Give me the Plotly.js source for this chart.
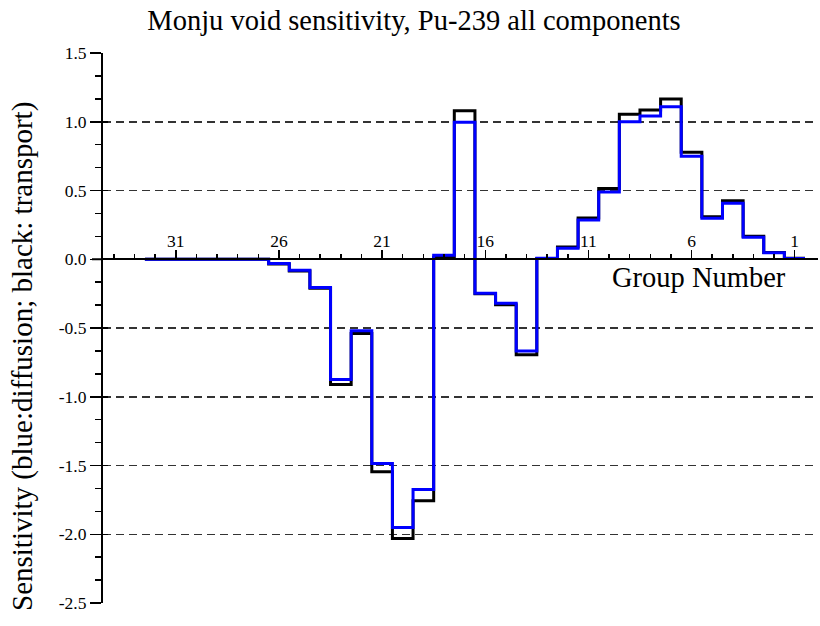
<!DOCTYPE html>
<html>
<head>
<meta charset="utf-8">
<script src="https://cdn.plot.ly/plotly-3.0.1.min.js"></script>
<style>html,body{margin:0;padding:0;background:#fff;}</style>
</head>
<body>
<div id="chart" style="width:820px;height:626px;"></div>
<script>
// Energy groups (left to right on the chart: 32 ... 1)
var groups = [32,31,30,29,28,27,26,25,24,23,22,21,20,19,18,17,16,15,14,13,12,11,10,9,8,7,6,5,4,3,2,1];
// Transport (black) sensitivity per group
var transport = [0,0,0,0,0,0,-0.035,-0.085,-0.21,-0.91,-0.54,-1.545,-2.03,-1.756,0.015,1.08,-0.25,-0.33,-0.695,0.005,0.09,0.30,0.515,1.054,1.085,1.165,0.778,0.31,0.425,0.168,0.05,0.007];
// Diffusion (blue) sensitivity per group
var diffusion = [0,0,0,0,0,0,-0.03,-0.08,-0.205,-0.875,-0.52,-1.485,-1.95,-1.675,0.03,0.996,-0.248,-0.32,-0.667,0.008,0.08,0.285,0.49,1.0,1.042,1.11,0.75,0.298,0.407,0.16,0.047,0.006];
// Tick labels
var xTickVals = [31,26,21,16,11,6,1];
var xTickText = ['31','26','21','16','11','6','1'];
var xMinorVals = [34,33,32,31,30,29,28,27,26,25,24,23,22,21,20,19,18,17,16,15,14,13,12,11,10,9,8,7,6,5,4,3,2,1];
var yTickVals = [1.5,1.0,0.5,0.0,-0.5,-1.0,-1.5,-2.0,-2.5];
var yTickText = ['1.5','1.0','0.5','0.0','-0.5','-1.0','-1.5','-2.0','-2.5'];

// step edges: each group spans [g+0.5, g-0.5]
function stepX(gs){ var x = gs.map(function(g){return g+0.5;}); x.push(gs[gs.length-1]-0.5); return x; }
function stepY(vs){ var y = vs.slice(); y.push(vs[vs.length-1]); return y; }

var serif = 'Liberation Serif, Times New Roman, serif';
var xr = [34.53, -0.13];
var yr = [-2.5, 1.5];

var traces = [
  {x: stepX(groups), y: stepY(transport), mode:'lines', line:{shape:'hv', color:'#000000', width:3}, xaxis:'x', yaxis:'y', hoverinfo:'skip', showlegend:false},
  {x: stepX(groups), y: stepY(diffusion), mode:'lines', line:{shape:'hv', color:'#0000ff', width:3}, xaxis:'x2', yaxis:'y2', hoverinfo:'skip', showlegend:false}
];

var layout = {
  width: 820, height: 626,
  margin: {l:103, r:2, t:53, b:23},
  paper_bgcolor:'#ffffff', plot_bgcolor:'#ffffff',
  showlegend:false,
  title: {text:'Monju void sensitivity, Pu-239 all components', x:414/820, xanchor:'center', xref:'container', y:1-20/626, yanchor:'middle', yref:'container', font:{family:serif, size:28.5, color:'#000'}},
  xaxis: {
    range: xr, anchor:'free', position:0.625, side:'top',
    showgrid:false, zeroline:false, showline:true, linecolor:'#000', linewidth:2,
    tickmode:'array', tickvals:xTickVals, ticktext:xTickText,
    ticks:'outside', ticklen:8, tickwidth:1.5, tickcolor:'#000', ticklabelstandoff:-4,
    tickfont:{family:serif, size:17.5, color:'#000'}
  },
  xaxis2: {
    range: xr, overlaying:'x', anchor:'free', position:0.625, side:'top',
    showgrid:false, zeroline:false, showline:false,
    tickmode:'array', tickvals:xMinorVals, showticklabels:false,
    ticks:'outside', ticklen:5, tickwidth:1.5, tickcolor:'#000'
  },
  yaxis: {
    range: yr, showgrid:true, gridcolor:'#333', gridwidth:1.5, griddash:'8px,5px',
    zeroline:false, showline:true, linecolor:'#000', linewidth:2,
    tickmode:'array', tickvals:yTickVals, ticktext:yTickText,
    ticks:'outside', ticklen:11, tickwidth:1.5, tickcolor:'#000',
    tickfont:{family:serif, size:17.5, color:'#000'},
    minor:{dtick:0.5/3, tick0:-2.5, ticks:'outside', ticklen:6, tickwidth:1.5, tickcolor:'#000', showgrid:false}
  },
  yaxis2: {
    range: yr, overlaying:'y', anchor:'x2', side:'left',
    showgrid:false, zeroline:false, showline:false,
    tickmode:'array', tickvals:yTickVals, showticklabels:false,
    ticks:'inside', ticklen:5, tickwidth:1.5, tickcolor:'#000'
  },
  shapes: [
    {type:'line', xref:'paper', yref:'y', x0:-11/715, x1:0, y0:0, y1:0, line:{color:'#000', width:2}}
  ],
  annotations: [
    {text:'Sensitivity (blue:diffusion; black: transport)', xref:'paper', yref:'paper', x:(22-103)/715, y:(603-357)/550, xanchor:'center', yanchor:'middle', textangle:-90, showarrow:false, font:{family:serif, size:29, color:'#000'}},
    {text:'Group Number', xref:'paper', yref:'paper', x:(699-103)/715, y:(603-277)/550, xanchor:'center', yanchor:'middle', showarrow:false, font:{family:serif, size:28.5, color:'#000'}}
  ]
};

Plotly.newPlot('chart', traces, layout, {staticPlot:true, displayModeBar:false});
</script>
</body>
</html>
